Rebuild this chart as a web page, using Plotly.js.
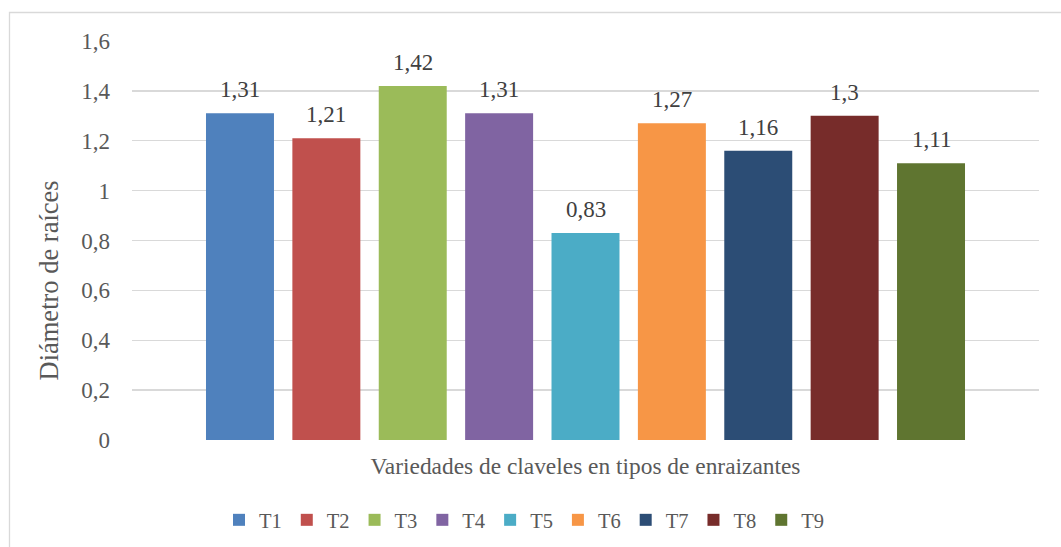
<!DOCTYPE html>
<html>
<head>
<meta charset="utf-8">
<script src="https://cdn.plot.ly/plotly-3.0.1.min.js"></script>
<style>
html,body{margin:0;padding:0;overflow:hidden;background:#fff;}
#chart{width:1061px;height:547px;}
</style>
</head>
<body>
<div id="chart"></div>
<script>
const categories = ["T1","T2","T3","T4","T5","T6","T7","T8","T9"];
const values = [1.31, 1.21, 1.42, 1.31, 0.83, 1.27, 1.16, 1.3, 1.11];
const colors = ["#4F81BD","#C0504D","#9BBB59","#8064A2","#4BACC6","#F79646","#2C4D75","#772C2A","#5F7530"];
const yTicks = [0, 0.2, 0.4, 0.6, 0.8, 1, 1.2, 1.4, 1.6];
const xTitle = "Variedades de claveles en tipos de enraizantes";
const yTitle = "Diámetro de raíces";

const FONT = "Liberation Serif, Times New Roman, serif";
const TXT = "#595959";

const traces = categories.map((c, i) => ({
  type: "bar",
  name: c,
  x: [c],
  y: [values[i]],
  marker: {color: colors[i]},
  hovertemplate: "%{x}: %{y}<extra></extra>"
}));

const annotations = categories.map((c, i) => ({
  x: c, y: values[i], xref: "x", yref: "y",
  text: String(values[i]).replace(".", ","),
  showarrow: false, yanchor: "bottom", yshift: 9,
  font: {family: FONT, size: 23, color: "#404040"}
}));

annotations.push({
  text: yTitle, xref: "paper", yref: "paper",
  x: (48.5 - 132) / 907, y: (440 - 281) / 399,
  xanchor: "center", yanchor: "middle",
  textangle: -90, showarrow: false,
  font: {family: FONT, size: 26.5, color: TXT}
});

const layout = {
  width: 1061, height: 547,
  margin: {l: 132, r: 22, t: 41, b: 107},
  paper_bgcolor: "#fff", plot_bgcolor: "#fff",
  separators: ", ",
  barmode: "overlay",
  bargap: 0.213,
  font: {family: FONT, size: 20, color: TXT},
  xaxis: {
    type: "category",
    categoryorder: "array",
    categoryarray: categories,
    range: [-1.25, 9.25],
    showticklabels: false,
    showgrid: false,
    zeroline: false,
    showline: false,
    ticks: "",
    automargin: false,
    title: {text: xTitle, font: {family: FONT, size: 23.4, color: TXT}, standoff: 17}
  },
  yaxis: {
    range: [0, 1.6],
    tickvals: yTicks,
    showgrid: true,
    gridcolor: "#D9D9D9",
    gridwidth: 1.3,
    zeroline: false,
    showline: false,
    ticks: "",
    automargin: false,
    ticklabelstandoff: 21,
    tickfont: {family: FONT, size: 23, color: TXT}
  },
  showlegend: true,
  legend: {
    orientation: "h",
    xref: "container", yref: "container",
    x: 524.5 / 1061, xanchor: "center",
    y: (547 - 520) / 547, yanchor: "middle",
    font: {family: FONT, size: 20.5, color: TXT},
    itemwidth: 30,
    traceorder: "normal"
  },
  annotations: annotations,
  shapes: [{
    type: "rect", xref: "paper", yref: "paper",
    x0: (9.5 - 132) / 907, x1: 1.2,
    y0: -0.5, y1: (440 - 12.5) / 399,
    line: {color: "#D9D9D9", width: 1.3},
    fillcolor: "rgba(0,0,0,0)",
    layer: "below"
  }]
};

Plotly.newPlot("chart", traces, layout, {displayModeBar: false, staticPlot: true});
</script>
</body>
</html>
